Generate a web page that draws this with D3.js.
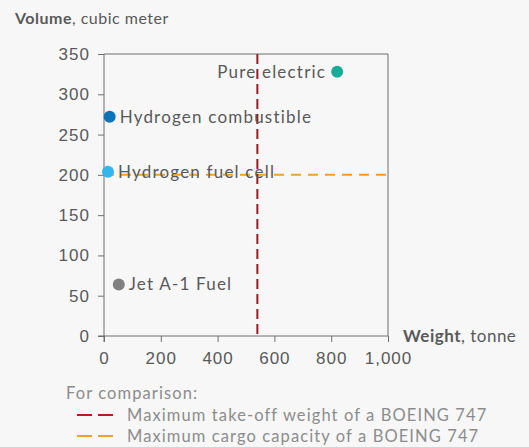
<!DOCTYPE html>
<html>
<head>
<meta charset="utf-8">
<script src="https://cdn.jsdelivr.net/npm/d3@7"></script>
<style>
	body { margin: 0; background: #f7f7f7; }
	svg { font-family: "Lato", "Open Sans", sans-serif; }
	.axis text { fill: #595959; font-size: 17px; letter-spacing: 1px; }
	.axis path, .axis line { stroke: #6f6f6f; }
</style>
</head>
<body>
<div id="chart"></div>
<script>
// fuel types, their weight (tonne) and volume (cubic meter)
let fuels = ["Pure electric", "Hydrogen combustible", "Hydrogen fuel cell", "Jet A-1 Fuel"];
let weights = [821, 20, 14, 52];
let volumes = [328, 272, 204, 64];
let colors = ["#17ad98", "#0b74b9", "#35b6ea", "#808080"];

let xTicks = [0, 200, 400, 600, 800, 1000];
let yTicks = [0, 50, 100, 150, 200, 250, 300, 350];

// BOEING 747 reference lines
let mtow = 540;
let cargo = 200;
let legendLabels = ["Maximum take-off weight of a BOEING 747", "Maximum cargo capacity of a BOEING 747"];
let legendColors = ["#c0161c", "#f0a030"];

let margin = {top: 54, right: 141, bottom: 111, left: 104};
let width = 529 - margin.left - margin.right;
let height = 447 - margin.top - margin.bottom;

let svg = d3.select("#chart").append("svg")
	.attr("width", 529)
	.attr("height", 447);

let g = svg.append("g")
	.attr("transform", "translate(" + margin.left + "," + margin.top + ")");

let xScale = d3.scaleLinear()
	.domain([0, 1000])
	.range([0, width]);

let yScale = d3.scaleLinear()
	.domain([0, 350])
	.range([height, 0]);

// frame on top and right
g.append("path")
	.attr("d", "M0,0H" + width + "V" + height)
	.attr("fill", "none")
	.attr("stroke", "#6f6f6f");

let xAxis = d3.axisBottom(xScale)
	.tickValues(xTicks)
	.tickSize(6)
	.tickSizeOuter(0)
	.tickFormat(d3.format(","));

let yAxis = d3.axisLeft(yScale)
	.tickValues(yTicks)
	.tickSize(6)
	.tickSizeOuter(0);

g.append("g")
	.attr("class", "axis x-axis")
	.attr("transform", "translate(0," + height + ")")
	.call(xAxis)
	.call(a => a.select(".domain").remove())
	.call(a => a.append("line").attr("x1", -6).attr("x2", width).attr("stroke", "#6f6f6f"))
	.selectAll("text")
	.attr("dy", "1.1em");

g.append("g")
	.attr("class", "axis y-axis")
	.call(yAxis)
	.call(a => a.select(".domain").remove())
	.call(a => a.append("line").attr("y1", 0).attr("y2", height + 6).attr("stroke", "#6f6f6f"))
	.selectAll("text")
	.attr("dx", "-0.3em");

// reference lines
g.append("line")
	.attr("x1", 0)
	.attr("x2", width)
	.attr("y1", yScale(cargo))
	.attr("y2", yScale(cargo))
	.attr("stroke", "#f0a030")
	.attr("stroke-width", 2)
	.attr("stroke-dasharray", "10,7");

g.append("line")
	.attr("x1", xScale(mtow))
	.attr("x2", xScale(mtow))
	.attr("y1", 0)
	.attr("y2", height)
	.attr("stroke", "#9e1b22")
	.attr("stroke-width", 2)
	.attr("stroke-dasharray", "10,5");

let data = fuels.map((f, i) => ({name: f, w: weights[i], v: volumes[i], c: colors[i]}));

g.selectAll(".dot")
	.data(data)
	.enter()
	.append("circle")
	.attr("class", "dot")
	.attr("cx", d => xScale(d.w))
	.attr("cy", d => yScale(d.v))
	.attr("r", 6)
	.attr("fill", d => d.c);

g.selectAll(".lbl")
	.data(data)
	.enter()
	.append("text")
	.attr("class", "lbl")
	.attr("x", d => d.name == "Pure electric" ? xScale(d.w) - 11 : xScale(d.w) + 10)
	.attr("y", d => yScale(d.v))
	.attr("dy", "0.35em")
	.attr("text-anchor", d => d.name == "Pure electric" ? "end" : "start")
	.attr("fill", "#595959")
	.style("font-size", "17px")
	.style("letter-spacing", "1.2px")
	.text(d => d.name);

// axis titles
let yTitle = svg.append("text")
	.attr("x", 15)
	.attr("y", 24)
	.attr("fill", "#595959")
	.style("font-size", "16px")
	.style("letter-spacing", "0.5px");
yTitle.append("tspan").attr("font-weight", "bold").text("Volume");
yTitle.append("tspan").text(", cubic meter");

let xTitle = svg.append("text")
	.attr("x", 403)
	.attr("y", 342)
	.attr("fill", "#595959")
	.style("font-size", "17px")
	.style("letter-spacing", "0.5px");
xTitle.append("tspan").attr("font-weight", "bold").text("Weight");
xTitle.append("tspan").text(", tonne");

// legend
svg.append("text")
	.attr("x", 66)
	.attr("y", 399)
	.attr("fill", "#8c8c8c")
	.style("font-size", "16.5px")
	.style("letter-spacing", "1.1px")
	.text("For comparison:");

let legend = svg.selectAll(".legend")
	.data(legendLabels)
	.enter()
	.append("g")
	.attr("class", "legend")
	.attr("transform", (d, i) => "translate(0," + (415 + i * 21) + ")");

legend.append("line")
	.attr("x1", 77)
	.attr("x2", 113)
	.attr("stroke", (d, i) => legendColors[i])
	.attr("stroke-width", 2)
	.attr("stroke-dasharray", "15,6");

legend.append("text")
	.attr("x", 127)
	.attr("dy", "0.35em")
	.attr("fill", "#8c8c8c")
	.style("font-size", "16.5px")
	.style("letter-spacing", "1.1px")
	.text(d => d);
</script>
</body>
</html>
